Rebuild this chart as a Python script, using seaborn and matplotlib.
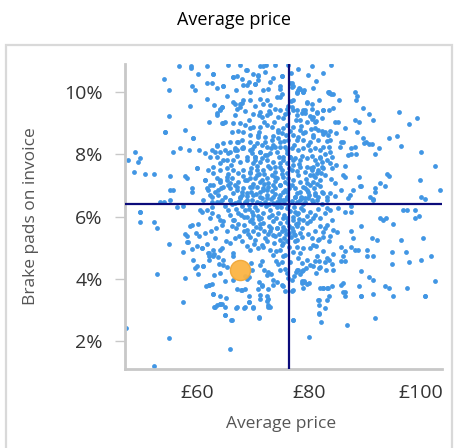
import matplotlib
matplotlib.use("Agg")
import matplotlib.pyplot as plt
import matplotlib.patches as mpatches
import seaborn as sns
import pandas as pd

# ---- data: (average price in GBP, brake pads on invoice in %) per garage ----
top_band = [(56.8,10.85),(58.9,10.82),(61.8,10.84),(60.1,10.57),(62.9,10.57),(61.8,10.30),(62.6,10.30),(59.1,10.19),
            (59.6,10.06),(63.6,10.12),(64.7,10.19),(66.5,10.47),(67.2,10.51),(68.8,10.70),(70.8,10.52),(70.4,10.25),
            (72.1,10.63),(69.2,10.31),(74.8,10.19),(75.1,10.51),(71.3,10.84),(72.4,10.88),(73.6,10.45),(76.2,10.86),
            (77.1,10.19),(78.1,10.05),(79.1,10.05),(80.5,10.83),(81.3,10.36),(82.6,10.62),(83.9,10.86),(83.4,10.00),
            (66.9,10.05),(68.2,10.22),(73.0,10.32),(69.5,10.00),(79.8,10.56),(76.8,10.62),(74.0,10.88),(67.6,10.86),
            (55.0,10.06),(54.0,10.43),(71.8,10.08),(65.5,10.88),(78.0,10.75)]

left_upper = [(58.87,10.78),(64.70,10.19),(65.42,9.87),(58.75,9.55),(64.40,8.99),(63.51,9.31),(64.40,9.52),
              (66.49,9.68),(67.08,9.47),(67.68,9.63),(66.79,9.26),(64.11,9.44),(59.23,8.51),(57.86,8.78),(54.29,8.72),
              (56.85,8.19),(55.77,8.08),(58.63,8.14),(60.42,8.14),(63.51,8.26),(64.11,8.08),(62.32,7.92),(63.21,8.08),
              (64.70,7.81),(65.60,8.03),(66.79,8.14),(67.38,8.40),(68.27,8.22),(69.76,8.16),(68.87,7.92),(71.25,8.08),
              (70.36,7.81),(72.44,7.98),(73.93,8.22),(74.82,8.40),(76.01,8.14),(48.93,8.08),(49.70,7.87),(47.56,7.81),
              (49.35,7.76),(48.63,7.42),(50.71,7.36),(52.20,7.36),(55.06,7.30),(57.86,7.30),(58.15,7.23),(60.06,7.55),
              (55.06,6.85),(55.77,6.85),(55.06,6.53),(59.05,6.91),(59.05,6.80),(61.43,7.17),(62.32,7.01),(62.02,6.85),
              (62.62,6.64),(63.81,6.85),(64.11,7.17),(65.30,7.28),(65.89,7.07),(67.08,6.96),(67.98,6.80),(68.87,7.17),
              (69.76,6.96),(70.65,7.33),(71.25,7.12),(71.85,6.91),(72.74,7.07),(73.93,7.28),(74.82,7.01),(75.42,6.80),
              (76.01,6.64),(53.39,6.48),(53.99,6.48),(49.82,6.14),(56.37,6.32),(57.56,6.35),(60.83,6.16),(62.62,6.32),
              (63.51,6.48),(64.40,6.53),(65.89,6.53),(66.79,6.43),(67.68,6.59),(68.57,6.48),(69.76,6.53),(71.25,6.43),
              (72.44,6.59),(73.63,6.43),(74.82,6.53),(55.05,9.23),(54.30,8.72),(59.20,8.51),(60.05,7.55)]

center_upper = [(62.92,10.57),(66.49,10.49),(67.98,10.43),(68.87,10.70),(70.06,10.57),(70.96,10.54),(68.87,10.22),
                (70.36,10.27),(70.96,10.38),(71.85,10.83),(75.12,10.51),(74.83,10.11),(75.12,9.95),(74.83,9.84),
                (76.61,10.29),(76.91,10.17),(77.80,10.01),(78.40,10.11),(78.99,10.01),(83.64,10.01),(61.85,9.79),
                (63.04,9.58),(64.11,9.42),(63.52,9.26),(62.21,9.04),(64.71,8.99),(65.00,9.04),(64.41,9.52),(66.79,9.63),
                (67.98,9.65),(67.68,9.52),(68.28,9.74),(69.47,9.74),(71.25,9.79),(72.44,9.74),(71.85,9.63),(73.04,9.58),
                (73.93,9.47),(74.83,9.42),(76.02,9.47),(76.91,9.52),(71.25,9.36),(71.55,9.20),(72.44,9.26),(73.04,9.31),
                (74.53,9.20),(75.42,9.15),(76.31,9.31),(77.21,9.42),(77.80,9.26),(78.69,9.31),(79.29,9.42),(79.59,9.68),
                (80.48,9.63),(81.37,9.36),(82.56,9.42),(82.27,9.15),(78.40,9.10),(79.59,9.04),(81.08,9.04),(81.67,8.78),
                (82.86,8.72),(83.46,8.62),(80.78,8.62),(78.99,8.67),(78.40,8.78),(77.21,8.88),(76.02,8.94),(75.42,8.83),
                (74.53,8.78),(73.34,8.88),(72.44,8.94),(71.25,8.88),(70.06,8.88),(69.47,8.83),(68.58,8.94),(67.68,8.99),
                (66.49,8.99),(66.19,8.72),(68.28,8.72),(69.47,8.62),(70.96,8.62),(72.15,8.56),(73.34,8.46),(74.53,8.51),
                (75.12,8.67),(75.90,8.62),(77.21,8.62),(77.80,8.46),(78.99,8.46),(80.18,8.40),(81.67,8.46),(82.56,8.24),
                (81.97,8.14),(81.08,8.19),(80.18,8.14),(78.99,8.19),(78.10,8.14),(76.91,8.19),(75.72,8.24),(74.83,8.24),
                (73.64,8.30),(72.44,8.24),(71.55,8.30),(70.66,8.35),(69.47,8.40),(67.98,8.46),(67.09,8.40),(65.90,8.40),
                (64.71,8.35),(63.52,8.30),(62.62,8.14),(61.43,8.03),(63.52,7.92),(65.00,8.14),(65.90,8.08),(67.09,8.14),
                (68.28,8.19),(69.47,8.14),(70.36,7.92),(71.25,8.08),(72.15,7.98),(73.04,8.03),(74.23,8.08),(75.42,7.92),
                (76.61,7.92),(77.50,7.87),(78.40,7.81),(79.59,7.87),(81.08,7.81),(81.97,7.87),(83.16,7.81),(82.27,7.60),
                (80.78,7.60),(79.59,7.60),(78.40,7.60),(77.21,7.65),(76.02,7.71),(74.83,7.71),(73.64,7.76),(72.44,7.81),
                (71.25,7.76),(70.06,7.71),(68.87,7.81),(67.68,7.76),(66.49,7.81),(65.30,7.81),(64.11,7.71),(62.92,7.60),
                (62.03,7.49),(62.92,7.39),(64.11,7.49),(65.30,7.55),(66.49,7.49),(67.39,7.39),(68.28,7.49),(69.47,7.44),
                (70.66,7.49),(71.85,7.49),(73.04,7.55),(73.93,7.44),(75.12,7.49),(76.02,7.39),(76.91,7.49),(78.10,7.33),
                (79.29,7.44),(80.18,7.33),(81.37,7.39),(82.86,7.33),(81.97,7.17),(80.78,7.12),(79.59,7.07),(78.40,7.12),
                (77.21,7.17),(76.31,7.23),(75.42,7.28),(74.23,7.23),(73.34,7.33),(72.44,7.23),(71.55,7.17),(70.36,7.23),
                (69.47,7.23),(68.58,7.17),(67.39,7.12),(66.19,7.23),(65.30,7.17),(64.11,7.12),(62.92,7.01),(61.73,6.91),
                (61.43,7.17),(63.22,6.80),(64.71,6.96),(65.90,6.91),(67.09,6.85),(68.28,6.91),(69.47,6.96),(70.66,6.96),
                (71.85,6.85),(72.74,6.96),(73.93,6.91),(74.83,7.01),(75.72,6.85),(77.50,6.91),(78.40,6.80),(79.59,6.85),
                (81.08,6.75),(82.27,6.80),(83.16,6.64),(81.37,6.53),(79.89,6.59),(78.69,6.59),(77.50,6.64),(76.02,6.64),
                (74.83,6.69),(73.64,6.64),(72.44,6.69),(71.25,6.64),(70.06,6.69),(68.87,6.75),(67.68,6.64),(66.49,6.75),
                (65.00,6.64),(63.81,6.69),(62.33,6.69),(61.14,6.53),(62.62,6.48),(64.11,6.48),(65.90,6.53),(67.39,6.48),
                (68.87,6.53),(70.66,6.48),(72.15,6.48),(74.23,6.48),(75.42,6.53),(77.80,6.48),(79.29,6.48),(80.78,6.48)]

right_upper = [(76.9,10.30),(78.3,10.12),(79.0,9.99),(80.8,10.12),(77.8,9.97),(83.6,9.97),(83.9,9.93),(84.3,9.93),
               (88.2,10.00),(88.6,9.87),(88.4,9.74),(85.4,9.74),(81.8,9.74),(77.2,9.74),(76.3,9.56),(79.6,9.65),
               (80.5,9.47),(79.0,9.42),(77.8,9.42),(82.6,9.42),(83.6,9.42),(84.3,9.49),(89.7,9.49),(90.8,9.29),
               (91.5,9.10),(96.1,9.35),(99.3,9.17),(97.9,8.97),(88.2,9.10),(89.0,9.03),(84.6,9.03),(80.2,9.23),
               (80.5,9.12),(80.8,9.20),(81.25,9.08),(79.3,9.31),(81.4,9.31),(86.4,8.83),(83.75,8.76),(84.9,8.69),
               (82.6,8.65),(94.3,8.51),(95.8,8.59),(96.4,8.27),(89.9,8.37),(90.8,8.33),(91.2,8.33),(92.6,8.19),
               (91.8,8.01),(87.6,8.19),(88.4,8.00),(85.8,8.40),(86.1,8.40),(83.75,8.46),(85.5,8.22),(100.1,8.08),
               (102.5,7.62),(103.4,6.86),(99.8,7.17),(100.1,6.62),(100.7,6.56),(94.0,7.37),(94.3,7.30),(92.7,7.07),
               (93.6,6.98),(91.8,6.91),(91.8,6.80),(91.0,6.62),(91.4,6.56),(89.0,7.28),(89.1,6.98),(89.4,6.98),
               (87.9,6.86),(87.3,6.70),(87.0,6.59),(86.1,7.34),(86.4,7.26),(85.8,6.86),(84.6,7.09),(83.9,7.20),
               (84.05,7.55),(86.4,7.62),(87.0,7.98),(87.5,8.01),(90.2,8.40),(88.2,8.22),(89.7,8.51),(88.6,8.72),
               (85.2,9.03),(81.1,8.83),(82.4,8.76),(80.8,8.54),(83.2,8.43),(83.6,8.22),(83.75,8.08),(82.9,8.00),
               (81.95,7.90),(84.05,7.90),(83.75,7.73),(84.9,7.66),(82.3,7.76),(81.7,7.50),(82.6,7.55),(80.5,7.50),
               (80.8,7.34),(81.1,7.26),(81.4,7.05),(81.95,6.98),(82.45,6.75),(83.75,6.77),(84.6,6.66),(83.2,6.54),
               (81.7,6.64),(79.9,6.80),(79.3,6.91),(80.2,7.02),(81.1,6.70),(80.5,6.54),(79.3,6.59),(78.4,6.54),
               (77.5,6.64)]

core = [(72.3,6.35),(73.1,6.22),(73.8,6.41),(74.4,6.12),(75.0,6.30),(75.6,6.05),(76.2,6.38),(76.7,6.18),
        (77.3,6.31),(77.9,6.08),(78.5,6.26),(72.8,5.98),(73.5,5.85),(74.1,5.94),(74.9,5.78),(75.4,5.96),
        (76.0,5.82),(76.5,5.70),(77.1,5.88),(77.6,5.76),(78.3,5.91),(71.8,6.12),(71.4,6.40),(70.9,6.02),
        (70.3,6.30),(69.8,6.15),(69.2,6.38),(68.6,6.20),(68.0,6.33),(67.5,6.45),(73.3,6.55),(74.6,6.58),
        (75.9,6.55),(76.9,6.50),(71.6,6.58),(72.9,5.70),(74.3,5.62),(75.8,5.58),(76.4,5.48),(73.9,5.38),
        (72.6,5.45),(71.2,5.77),(70.5,5.66),(69.9,5.92),(68.3,5.98),(67.8,6.05),(66.9,6.25),(66.3,6.40),
        (65.6,6.22),(64.9,6.35),(76.8,5.33),(77.4,5.45),(75.2,5.08),(73.7,5.15),(72.1,5.30),(71.7,5.02),
        (70.2,5.12),(69.1,5.45),(68.4,5.55),(67.3,5.75),(66.6,5.90),(76.5,6.92),(75.8,7.10),(73.4,6.82),
        (72.0,7.05),(71.0,7.35),(70.0,7.05),(69.0,6.65),(68.2,7.30),(74.0,7.58),(75.3,7.80),(76.4,7.55),
        (73.2,8.20),(72.7,7.62),(71.6,7.88),(70.9,8.55),(69.8,8.05),(74.4,8.70),(76.6,8.75),(73.8,9.05),
        (72.9,9.40),(70.4,9.55),(69.2,9.10),(68.0,8.20),(67.2,7.95),(66.0,7.65),(65.5,7.00),(64.3,6.90),
        (63.6,7.25),(77.9,7.45),(78.8,7.95),(79.8,8.30),(80.6,7.95),(81.4,7.70),(79.0,6.95),(80.0,6.70),
        (80.9,6.90),(82.1,7.40),(81.6,6.25),(82.4,6.40),(76.7,4.55),(76.9,3.95),(77.2,4.85),(76.4,5.02),
        (76.3,8.45),(76.8,9.70),(76.6,7.90)]

core_dense = [(73.4,6.05),(74.7,6.44),(75.3,5.66),(76.1,6.26),(74.0,6.72),(72.5,6.86),(73.9,7.15),(75.1,7.35),
              (76.2,7.05),(74.6,7.92),(72.2,8.40),(70.7,7.62),(69.6,7.55),(70.2,8.25),(71.1,8.70),(72.0,9.05),
              (73.5,8.60),(75.6,8.42),(76.1,8.05),(77.4,8.30),(78.2,7.70),(77.0,7.00),(77.8,6.75),(78.9,6.40),
              (79.6,6.02),(78.7,5.35),(77.9,5.25),(76.9,5.62),(75.5,5.30),(74.6,5.45),(73.2,5.62),(72.0,5.55),
              (71.5,5.95),(70.0,5.80),(69.3,6.25),(68.8,6.45),(70.6,6.72),(69.6,6.80),(71.2,6.80),(72.9,6.40),
              (74.2,6.30),(75.5,6.42),(76.0,5.95),(77.5,6.15),(78.6,6.62),(79.4,7.20),(80.3,7.55),(78.6,8.90),
              (77.6,9.10),(75.8,9.30),(74.2,9.85),(72.6,10.10),(71.0,9.25),(70.0,9.30),(68.6,9.40),(67.4,8.75),
              (66.7,8.20),(65.6,7.35),(66.8,7.00),(68.0,6.70),(69.4,7.40),(70.4,7.90),(71.9,7.35),(73.6,7.00),
              (74.9,7.60),(76.0,6.80),(77.2,7.80),(78.0,8.55),(79.3,8.70),(80.4,8.80)]

center_lower = [(62.2,3.79),(62.9,3.51),(63.2,3.10),(64.1,3.19),(64.4,3.19),(65.0,2.83),(66.2,2.69),(67.0,3.06),
                (68.3,3.06),(69.3,3.26),(70.05,3.06),(71.1,2.74),(71.25,3.47),(72.75,3.17),(73.0,3.08),(68.0,3.65),
                (70.95,3.67),(71.55,3.79),(72.45,4.13),(73.3,4.15),(73.5,3.81),(74.3,3.90),(75.1,3.81),(75.3,3.78),
                (75.7,3.62),(77.1,2.69),(78.7,3.87),(79.1,3.90),(79.6,3.83),(81.7,3.33),(81.8,3.17),(81.8,2.90),
                (82.6,3.70),(83.2,3.70),(81.25,4.19),(81.95,4.37),(83.0,4.29),(77.9,4.29),(78.4,4.15),(75.7,4.32),
                (76.0,4.17),(74.9,4.29),(74.5,4.47),(75.1,4.54),(74.1,4.56),(72.0,4.29),(72.75,4.22),(73.5,3.97),
                (71.25,4.43),(71.55,4.58),(69.6,4.51),(69.3,4.05),(69.8,4.29),(68.6,4.08),(66.4,3.97),(65.0,3.92),
                (67.05,3.68),(65.3,4.37),(64.7,4.45),(64.1,4.19),(63.0,4.13),(61.1,4.40),(64.0,4.47),(64.7,4.61),
                (62.9,4.77),(63.8,4.69),(60.8,4.99),(61.8,5.12),(62.2,4.83),(63.0,4.80),(62.8,4.72),(64.1,4.93),
                (64.4,4.99),(65.2,5.20),(65.8,5.15),(66.4,4.83),(66.5,4.72),(61.4,5.47),(62.4,5.54),(63.2,5.31),
                (63.4,5.63),(60.5,6.21),(62.3,5.95),(62.6,6.11),(61.7,6.21),(64.1,5.89),(64.7,5.86),(64.4,5.73),
                (63.8,6.03),(65.9,6.05),(66.5,5.89),(67.4,6.11),(66.2,5.68),(65.3,5.54),(67.0,5.63),(68.3,5.73),
                (68.9,5.57),(67.55,5.36),(66.8,5.31),(68.1,5.22),(69.5,5.33),(70.4,5.26),(70.95,5.44),(70.05,5.54),
                (71.25,5.63),(71.85,5.79),(71.1,5.93),(69.5,5.84),(70.05,6.05),(68.9,6.00),(70.65,6.21),(68.9,5.04),
                (69.5,4.93),(70.95,4.99),(71.55,5.09),(72.45,5.20),(73.0,4.93),(73.5,4.77),(74.1,4.88),(74.8,4.93),
                (75.3,4.72),(75.7,4.77),(73.0,5.52),(73.6,5.42),(74.2,5.63),(75.1,5.52),(75.9,5.44),(74.8,5.26),
                (75.4,5.15),(76.1,5.20),(77.5,5.20),(77.8,5.01),(78.4,4.83),(79.0,4.99),(78.1,4.67),(78.7,4.51),
                (79.6,4.61),(80.2,4.43),(81.1,4.56),(81.4,4.72),(80.2,4.99),(80.8,5.09),(81.7,5.26),(82.45,5.33),
                (81.1,5.54),(82.05,5.68),(82.9,5.63),(78.7,5.63),(78.1,5.79),(79.0,5.89),(79.6,5.79),(78.4,5.47),
                (79.9,5.44),(80.5,5.31),(77.5,5.42),(77.2,5.54),(77.8,5.68),(77.2,6.00),(78.1,6.11),(79.0,6.21),
                (80.2,6.16),(81.1,6.05),(81.95,5.95),(82.9,6.11),(80.2,5.84),(80.8,5.95)]

right_lower = [(83.2,6.27),(83.75,6.21),(85.2,6.27),(86.4,6.16),(87.6,6.34),(87.5,6.13),(91.4,6.53),(92.7,5.95),
               (93.3,5.89),(93.75,5.96),(89.3,5.70),(95.05,5.77),(96.8,6.21),(97.5,6.21),(98.9,6.21),(98.9,5.95),
               (99.7,6.02),(84.05,5.89),(83.2,5.73),(82.6,5.50),(83.75,5.38),(84.35,5.57),(85.05,5.50),(87.5,5.52),
               (87.9,5.31),(83.6,5.20),(81.8,5.28),(81.25,5.04),(82.6,4.88),(84.35,4.80),(85.8,5.01),(86.4,4.88),
               (87.6,5.01),(88.2,4.93),(88.8,4.93),(90.4,4.93),(90.4,4.74),(91.5,4.74),(91.2,5.31),(92.1,5.26),
               (94.8,4.86),(94.8,4.48),(97.3,4.86),(97.9,4.55),(96.4,5.26),(100.4,5.31),(100.05,4.61),(101.9,4.74),
               (102.5,3.92),(100.7,3.44),(86.1,4.72),(86.4,4.56),(85.8,4.56),(84.35,4.29),(89.3,4.24),(89.0,3.78),
               (89.4,3.44),(90.8,4.05),(91.5,3.97),(91.5,3.51),(93.6,3.78),(94.3,3.70),(95.05,3.44),(97.55,3.70),
               (86.1,3.87),(86.4,3.59),(86.4,3.46),(85.8,3.81),(83.6,3.44),(83.3,3.33),(82.95,3.06),(81.8,3.33),
               (81.8,2.88),(82.1,2.62),(86.8,2.50),(91.8,2.75),(80.0,2.12),(77.2,2.69),(78.7,3.92),(79.1,3.92),
               (79.0,3.70),(80.05,3.87),(77.2,3.65),(76.9,3.60),(81.95,3.70),(82.6,3.70),(83.4,3.70),(84.05,3.78),
               (84.05,4.48),(83.6,4.59),(81.8,4.56),(81.8,4.35),(82.9,4.54),(83.2,4.67),(80.8,4.40),(79.5,4.35),
               (78.7,4.24),(79.0,4.29),(78.1,4.29),(77.7,4.21),(76.3,4.03),(77.3,4.08),(86.1,3.58),(89.3,3.46),
               (100.8,3.46)]

bottom_left = [(49.7,6.14),(49.7,5.82),(52.2,5.82),(52.9,5.63),(55.05,5.12),(52.9,4.16),(57.9,4.03),(57.55,3.26),
               (55.05,2.10),(52.2,1.21),(47.3,2.43),(65.8,1.73),(57.55,4.86),(59.05,4.96),(59.2,4.61),(59.6,4.35),
               (60.1,4.16),(58.2,5.17),(58.45,5.17),(57.9,5.44),(58.2,5.36),(58.75,5.68),(59.05,5.73),(60.2,5.77),
               (60.05,5.04),(60.8,4.99),(59.8,5.47),(60.4,5.38),(60.05,4.40),(61.1,4.42),(62.2,4.72),(62.2,4.59),
               (62.9,4.91),(62.0,4.83),(61.6,3.78),(62.8,3.52),(63.1,3.10),(63.5,3.17),(64.1,3.20),(65.0,3.10),
               (65.05,2.82),(66.1,2.69),(67.2,3.08),(68.6,3.08),(69.2,3.26),(70.05,3.08),(71.1,2.76),(72.7,3.10),
               (72.45,3.30),(71.25,3.36),(69.3,3.44),(64.1,3.44),(62.6,3.83),(62.2,3.81),(67.8,3.65),(68.6,3.67),
               (69.0,3.99),(71.1,3.90),(71.6,3.78),(72.75,3.67),(72.45,3.44),(72.75,3.35),(65.2,3.39)]

avg_price = 76.5       # portfolio average price (GBP)
avg_share = 6.41       # portfolio average brake pad share (%)
garage_price = 67.6    # highlighted garage
garage_share = 4.28

x_ticks = [60, 80, 100]
x_tick_labels = ["£60", "£80", "£100"]
y_ticks = [2, 4, 6, 8, 10]
y_tick_labels = ["2%", "4%", "6%", "8%", "10%"]

groups = [top_band, left_upper, center_upper, right_upper, core, core_dense,
          center_lower, right_lower, bottom_left]
rows = [pt for g in groups for pt in g]
df = pd.DataFrame(rows, columns=["price", "share"])
hl = pd.DataFrame({"price": [garage_price], "share": [garage_share]})

# ---- styling ----
sns.set_theme(style="white")
plt.rcParams["font.family"] = ["Open Sans", "DejaVu Sans"]

W, H = 456, 448
fig = plt.figure(figsize=(W / 100, H / 100), dpi=100)
fig.patch.set_facecolor("white")

# light grey card frame around the plot
frame = mpatches.Rectangle((6 / W, -0.05), (452 - 6) / W, 1 - 45 / H + 0.05,
                           transform=fig.transFigure, fill=False,
                           edgecolor="#d9d9d9", linewidth=1.6)
fig.add_artist(frame)

fig.text(234 / W, 1 - 20 / H, "Average price", ha="center", va="center",
         fontsize=13, color="#000000")

left, right, top, bottom = 125, 442, 64, 369
ax = fig.add_axes([left / W, 1 - bottom / H, (right - left) / W, (bottom - top) / H])

sns.scatterplot(data=df, x="price", y="share", ax=ax, s=12, color="#4196e4",
                linewidth=0, legend=False, zorder=2)
ax.axvline(avg_price, color="#0b0b7a", lw=1.6, zorder=3)
ax.axhline(avg_share, color="#0b0b7a", lw=1.6, zorder=3)
sns.scatterplot(data=hl, x="price", y="share", ax=ax, s=210, color="#fbb444",
                edgecolor="#f0a83a", linewidth=1, alpha=0.95, legend=False, zorder=4)

ax.set_xlim(47.1, 103.8)
ax.set_ylim(1.1, 10.9)
ax.set_xticks(x_ticks)
ax.set_xticklabels(x_tick_labels)
ax.set_yticks(y_ticks)
ax.set_yticklabels(y_tick_labels)

for side in ("top", "right"):
    ax.spines[side].set_visible(False)
for side in ("left", "bottom"):
    ax.spines[side].set_color("#c8c8c8")
    ax.spines[side].set_linewidth(2)

ax.tick_params(axis="y", length=7, width=1, color="#c8c8c8", pad=9,
               labelsize=14, labelcolor="#333333", left=True)
ax.tick_params(axis="x", length=0, pad=11, labelsize=14, labelcolor="#333333", bottom=True)

ax.set_xlabel("Average price", fontsize=12.5, color="#555555")
ax.set_ylabel("Brake pads on invoice", fontsize=12.5, color="#555555")
ax.xaxis.set_label_coords(0.492, -0.155)
ax.yaxis.set_label_coords(-0.27, 0.5)
ax.grid(False)

fig.savefig("out.png", dpi=100, facecolor="white")
